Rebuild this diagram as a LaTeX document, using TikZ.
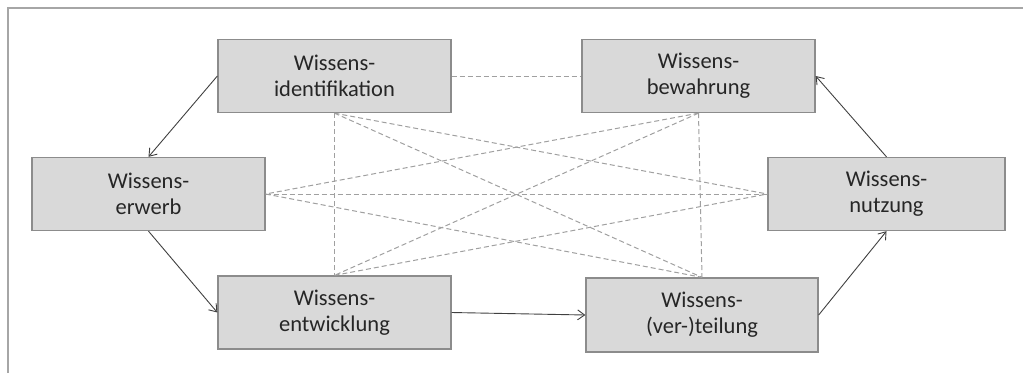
\documentclass[tikz,border=0pt]{standalone}
\usepackage{fontspec}
\setmainfont{Carlito}
\usetikzlibrary{arrows.meta}
\definecolor{boxfill}{HTML}{D9D9D9}
\definecolor{boxline}{HTML}{8C8C8C}
\definecolor{dashcol}{HTML}{A0A0A0}
\definecolor{framecol}{HTML}{A6A6A6}
\begin{document}
\begin{tikzpicture}[x=1pt,y=-1pt,
  phase/.style={draw=boxline, line width=1.3pt, fill=boxfill, rectangle,
    minimum width=233pt, minimum height=73pt, align=center, inner sep=0pt,
    font=\fontsize{22.5}{26}\selectfont, text=black!85},
  link/.style={draw=dashcol, line width=1pt, dash pattern=on 5pt off 3pt},
  flow/.style={draw=black!75, line width=0.9pt, -{Straight Barb[length=7pt,width=10pt]}}]
\useasboundingbox (0,0) rectangle (1023,373);
\draw[framecol, line width=1.6pt] (8,373) -- (8,8) -- (1023,8);
% nodes
\node[phase] (ident) at (334.5,76) {Wissens-\\identifikation};
\node[phase] (bew) at (698.5,76) {Wissens-\\bewahrung};
\node[phase] (erw) at (148.5,194) {Wissens-\\erwerb};
\node[phase, minimum width=237pt] (nutz) at (886.5,194) {Wissens-\\nutzung};
\node[phase] (entw) at (334.5,312.5) {Wissens-\\entwicklung};
\node[phase, minimum width=232pt, minimum height=74pt] (teil) at (702,315) {Wissens-\\(ver-)teilung};
% dashed relations
\draw[link] (ident.east) -- (bew.west);
\draw[link] (ident.south) -- (entw.north);
\draw[link] (ident.south) -- (nutz.west);
\draw[link] (ident.south) -- (teil.north);
\draw[link] (bew.south) -- (erw.east);
\draw[link] (bew.south) -- (entw.north);
\draw[link] (bew.south) -- (teil.north);
\draw[link] (erw.east) -- (nutz.west);
\draw[link] (erw.east) -- (teil.north);
\draw[link] (entw.north) -- (nutz.west);
% cycle
\draw[flow] (ident.west) -- (erw.north);
\draw[flow] (erw.south) -- (entw.west);
\draw[flow] (entw.east) -- (teil.west);
\draw[flow] (teil.east) -- (nutz.south);
\draw[flow] (nutz.north) -- (bew.east);
\end{tikzpicture}
\end{document}
